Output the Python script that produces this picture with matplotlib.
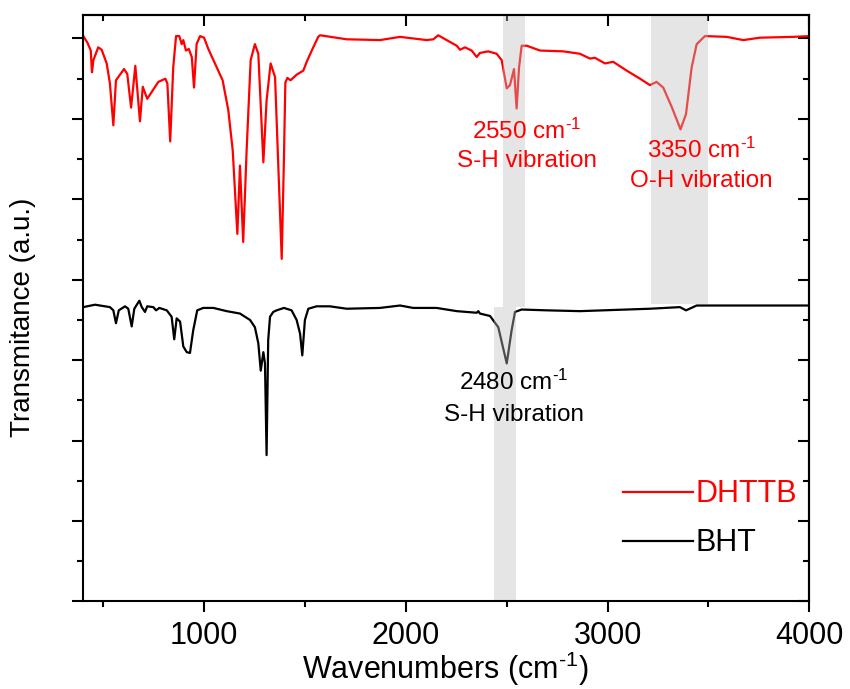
import numpy as np
import matplotlib
matplotlib.use("Agg")
import matplotlib.pyplot as plt

plt.rcParams['font.family'] = ['Liberation Sans', 'DejaVu Sans']
plt.rcParams['mathtext.fontset'] = 'custom'
plt.rcParams['mathtext.rm'] = 'Liberation Sans'
plt.rcParams['mathtext.it'] = 'Liberation Sans:italic'
plt.rcParams['mathtext.bf'] = 'Liberation Sans:bold'

# DHTTB spectrum (wavenumber, offset transmittance)
dhttb_wn = [400, 420, 437, 443, 450, 474, 491, 516, 532, 549, 562, 602, 618, 637,
            658, 681, 695, 717, 772, 807, 817, 831, 846, 860, 876, 888, 896, 909,
            923, 938, 949, 962, 979, 999, 1020, 1062, 1091, 1119, 1141, 1164, 1177,
            1193, 1210, 1230, 1251, 1268, 1293, 1309, 1329, 1351, 1384, 1395, 1402,
            1412, 1428, 1441, 1458, 1491, 1508, 1533, 1565, 1574, 1706, 1871, 1971,
            2004, 2103, 2136, 2160, 2202, 2252, 2268, 2293, 2326, 2351, 2367, 2408,
            2450, 2475, 2500, 2516, 2536, 2549, 2561, 2574, 2599, 2665, 2780, 2863,
            2913, 2937, 2987, 3028, 3095, 3161, 3210, 3243, 3276, 3318, 3362, 3389,
            3417, 3442, 3483, 3591, 3673, 3756, 3921, 4000]
dhttb_t = [7.03, 6.95, 6.85, 6.58, 6.73, 6.89, 6.86, 6.69, 6.44, 5.92, 6.48, 6.62,
           6.56, 6.14, 6.66, 5.97, 6.40, 6.25, 6.46, 6.50, 6.44, 5.72, 6.64, 7.03,
           7.03, 6.93, 6.98, 6.85, 6.87, 6.77, 6.39, 6.93, 7.03, 7.01, 6.87, 6.64,
           6.48, 6.11, 5.61, 4.57, 5.42, 4.47, 5.61, 6.73, 6.93, 6.81, 5.46, 6.23,
           6.69, 6.52, 4.26, 5.50, 6.45, 6.51, 6.48, 6.51, 6.55, 6.60, 6.71, 6.85,
           7.02, 7.04, 6.99, 6.98, 7.02, 7.01, 6.98, 6.99, 7.04, 6.98, 6.91, 6.86,
           6.89, 6.85, 6.77, 6.82, 6.84, 6.81, 6.73, 6.38, 6.42, 6.62, 6.13, 6.64,
           6.91, 6.91, 6.85, 6.84, 6.81, 6.75, 6.76, 6.69, 6.71, 6.60, 6.50, 6.42,
           6.46, 6.39, 6.15, 5.87, 6.06, 6.64, 6.93, 7.03, 7.02, 6.98, 7.01, 7.02,
           7.03]

# BHT spectrum
bht_wn = [400, 458, 532, 549, 562, 576, 607, 623, 640, 653, 668, 678, 690, 706,
          717, 747, 761, 777, 814, 838, 851, 863, 880, 896, 913, 929, 945, 965,
          995, 1045, 1111, 1177, 1227, 1251, 1268, 1280, 1293, 1301, 1309, 1317,
          1326, 1342, 1359, 1395, 1433, 1458, 1475, 1486, 1499, 1516, 1557, 1623,
          1706, 1871, 1971, 2036, 2152, 2252, 2351, 2359, 2367, 2417, 2458, 2500,
          2524, 2541, 2574, 2698, 2863, 3210, 3359, 3389, 3442, 4000]
bht_t = [3.66, 3.69, 3.66, 3.62, 3.46, 3.62, 3.67, 3.64, 3.42, 3.64, 3.70, 3.74,
         3.66, 3.60, 3.67, 3.66, 3.62, 3.65, 3.62, 3.54, 3.26, 3.52, 3.48, 3.17,
         3.10, 3.09, 3.37, 3.62, 3.65, 3.65, 3.61, 3.58, 3.50, 3.41, 3.21, 2.87,
         3.10, 2.96, 1.82, 3.25, 3.54, 3.60, 3.62, 3.65, 3.62, 3.50, 3.33, 3.06,
         3.50, 3.64, 3.67, 3.67, 3.64, 3.65, 3.68, 3.65, 3.65, 3.61, 3.59, 3.61,
         3.58, 3.55, 3.41, 2.96, 3.37, 3.60, 3.63, 3.62, 3.61, 3.64, 3.66, 3.62,
         3.68, 3.68]

# highlighted regions: (x from, x to), (y from, y to)
band_x = [(2483, 2590), (2437, 2546), (3214, 3496)]
band_y = [(3.66, 7.29), (0.0, 3.66), (3.70, 7.29)]

xticks = [1000, 2000, 3000, 4000]
sup = '$^{\\text{-1}}$'

fig = plt.figure(figsize=(8.5, 6.89), dpi=100)
ax = fig.add_axes([0.098, 0.127, 0.854, 0.851])

l1, = ax.plot(dhttb_wn, dhttb_t, color='#ff0000', lw=1.6)
l2, = ax.plot(bht_wn, bht_t, color='black', lw=1.6)

for bx, by in zip(band_x, band_y):
    ax.fill_between(bx, by[0], by[1], color='#bfbfbf', alpha=0.4, lw=0, zorder=2.5)

ax.set_xlim(400, 4000)
ax.set_ylim(0, 7.29)
ax.set_xticks(xticks)
ax.set_xticks([500, 1500, 2500, 3500], minor=True)
ax.set_yticks(np.arange(0, 8))
ax.set_yticks(np.arange(0.5, 7, 1), minor=True)
ax.set_yticklabels([])
ax.tick_params(which='major', direction='out', length=8, width=1.5, labelsize=22, pad=6)
ax.tick_params(which='minor', direction='out', length=4, width=1.5)
ax.tick_params(top=False, right=False, which='both')
for s in ax.spines.values():
    s.set_linewidth(1.5)

# inward ticks on top and right
top = ax.secondary_xaxis('top')
top.set_xticks(xticks)
top.set_xticks([500, 1500, 2500, 3500], minor=True)
top.set_xticklabels([])
top.tick_params(which='major', direction='in', length=8, width=1.5)
top.tick_params(which='minor', direction='in', length=4, width=1.5)
right = ax.secondary_yaxis('right')
right.set_yticks(np.arange(0, 8))
right.set_yticks(np.arange(0.5, 7, 1), minor=True)
right.set_yticklabels([])
right.tick_params(which='major', direction='in', length=8, width=1.5)
right.tick_params(which='minor', direction='in', length=4, width=1.5)
for s in list(top.spines.values()) + list(right.spines.values()):
    s.set_linewidth(1.5)

ax.set_xlabel('Wavenumbers (cm' + sup + ')', fontsize=22)
ax.set_ylabel('Transmitance (a.u.)', fontsize=20)
ax.xaxis.set_label_coords(0.498, -0.082)
ax.yaxis.set_label_coords(-0.065, 0.484)

ax.text(2600, 5.75, '2550 cm' + sup, color='#ff0000', fontsize=17.5, ha='center')
ax.text(2600, 5.40, 'S-H vibration', color='#ff0000', fontsize=17.5, ha='center')
ax.text(3465, 5.52, '3350 cm' + sup, color='#ff0000', fontsize=17.5, ha='center')
ax.text(3465, 5.15, 'O-H vibration', color='#ff0000', fontsize=17.5, ha='center')
ax.text(2535, 2.63, '2480 cm' + sup, color='black', fontsize=17.5, ha='center')
ax.text(2535, 2.25, 'S-H vibration', color='black', fontsize=17.5, ha='center')

leg = ax.legend([l1, l2], ['DHTTB', 'BHT'], loc='center left',
                bbox_to_anchor=(0.743, 0.141), frameon=False, fontsize=22,
                handlelength=2.3, handletextpad=0.1, labelspacing=0.63,
                borderpad=0, borderaxespad=0)
leg.get_texts()[0].set_color('#ff0000')

fig.savefig('out.png', dpi=100)
